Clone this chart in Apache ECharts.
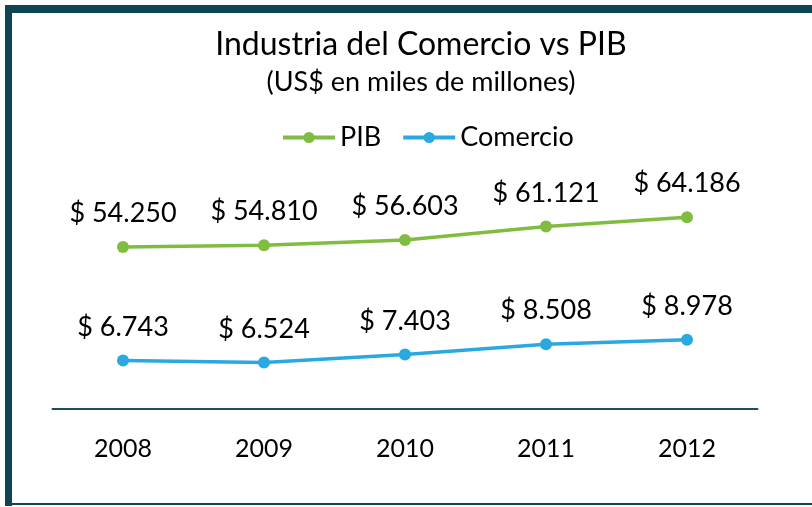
<!DOCTYPE html>
<html>
<head>
<meta charset="utf-8">
<script src="https://cdn.jsdelivr.net/npm/echarts@6/dist/echarts.min.js"></script>
<style>
  html, body { margin: 0; padding: 0; background: #fff; }
  #chart { width: 812px; height: 507px; }
</style>
</head>
<body>
<div id="chart"></div>
<script>
const years = ['2008', '2009', '2010', '2011', '2012']
const pib = [54250, 54810, 56603, 61121, 64186]
const comercio = [6743, 6524, 7403, 8508, 8978]

const font = 'Lato, "Open Sans", sans-serif'
const fmt = v => '$ ' + v.toLocaleString('de-DE')

const chart = echarts.init(document.getElementById('chart'))
chart.setOption({
  backgroundColor: '#fff',
  color: ['#80bc40', '#2aa9e1'],
  title: {
    text: 'Industria del Comercio vs PIB',
    subtext: '(US$ en miles de millones)',
    left: 416,
    textAlign: 'center',
    top: 24,
    itemGap: 8,
    textStyle: { fontFamily: font, fontWeight: 'normal', fontSize: 32, color: '#000' },
    subtextStyle: { fontFamily: font, fontSize: 27, color: '#000' }
  },
  legend: {
    top: 119,
    left: 276,
    itemWidth: 52,
    itemHeight: 14,
    itemGap: 20,
    textStyle: { fontFamily: font, fontSize: 27, color: '#000' },
    lineStyle: { width: 4 },
    data: ['PIB', 'Comercio']
  },
  graphic: [
    // marco
    { type: 'rect', shape: { x: 5, y: 5, width: 820, height: 8 }, style: { fill: '#0e4453' } },
    { type: 'rect', shape: { x: 5, y: 5, width: 7, height: 501 }, style: { fill: '#0e4453' } },
    { type: 'rect', shape: { x: 5, y: 503, width: 820, height: 2 }, style: { fill: '#0e4453' } }
  ],
  grid: { left: 52.5, width: 705, top: 150, height: 259 },
  xAxis: {
    type: 'category',
    data: years,
    axisLine: { lineStyle: { color: '#1c4f5e', width: 2 } },
    axisTick: { show: false },
    axisLabel: { fontFamily: font, fontSize: 25, color: '#000', margin: 27 }
  },
  yAxis: [
    { type: 'value', min: 0, max: 86700, show: false, splitLine: { show: false } },
    { type: 'value', min: 1500, max: 29500, show: false, splitLine: { show: false } }
  ],
  series: [
    {
      name: 'PIB',
      type: 'line',
      yAxisIndex: 0,
      data: pib,
      symbol: 'circle',
      symbolSize: 12,
      lineStyle: { width: 3.5 },
      label: {
        show: true,
        position: 'top',
        distance: 14,
        fontFamily: font,
        fontSize: 27,
        color: '#000',
        formatter: p => fmt(p.value)
      }
    },
    {
      name: 'Comercio',
      type: 'line',
      yAxisIndex: 1,
      data: comercio,
      symbol: 'circle',
      symbolSize: 12,
      lineStyle: { width: 3.5 },
      label: {
        show: true,
        position: 'top',
        distance: 14,
        fontFamily: font,
        fontSize: 27,
        color: '#000',
        formatter: p => fmt(p.value)
      }
    }
  ]
})
window.addEventListener('resize', () => chart.resize())
</script>
</body>
</html>
